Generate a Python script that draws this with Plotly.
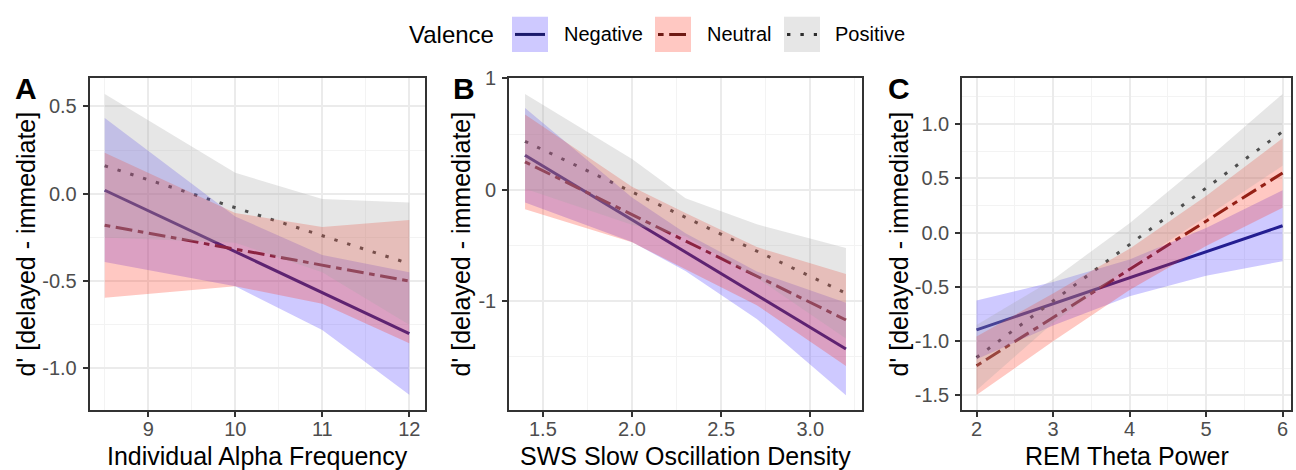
import plotly.graph_objects as go

W, H = 1296, 470
FONT = "Liberation Sans, Arial, Helvetica, sans-serif"

# ---------------- data ----------------
VALENCE = ["Negative", "Neutral", "Positive"]

# Panel A: Individual Alpha Frequency
A_X = [8.5, 10, 11, 12]
A_NEG_FIT = [0.02, -0.331, -0.566, -0.80]
A_NEG_LO = [-0.39, -0.53, -0.78, -1.15]
A_NEG_HI = [0.434, -0.13, -0.35, -0.45]
A_NEU_FIT = [-0.18, -0.317, -0.409, -0.50]
A_NEU_LO = [-0.595, -0.53, -0.63, -0.855]
A_NEU_HI = [0.235, -0.11, -0.19, -0.15]
A_POS_FIT = [0.16, -0.08, -0.24, -0.40]
A_POS_LO = [-0.25, -0.28, -0.45, -0.75]
A_POS_HI = [0.57, 0.12, -0.03, -0.05]

# Panel B: SWS Slow Oscillation Density
B_X = [1.4, 2.0, 2.3, 2.7, 3.2]
B_NEG_FIT = [0.31, -0.27, -0.56, -0.947, -1.43]
B_NEG_LO = [-0.115, -0.47, -0.73, -1.16, -1.845]
B_NEG_HI = [0.735, -0.07, -0.39, -0.735, -1.015]
B_NEU_FIT = [0.25, -0.223, -0.46, -0.776, -1.17]
B_NEU_LO = [-0.175, -0.472, -0.71, -1.037, -1.583]
B_NEU_HI = [0.675, 0.026, -0.21, -0.515, -0.757]
B_POS_FIT = [0.435, -0.02, -0.247, -0.55, -0.93]
B_POS_LO = [0.01, -0.315, -0.418, -0.79, -1.337]
B_POS_HI = [0.86, 0.275, -0.076, -0.31, -0.523]

# Panel C: REM Theta Power
C_X = [2, 3, 4, 5, 6]
C_NEG_FIT = [-0.896, -0.656, -0.417, -0.177, 0.063]
C_NEG_LO = [-1.166, -0.856, -0.587, -0.397, -0.264]
C_NEG_HI = [-0.626, -0.456, -0.247, 0.043, 0.39]
C_NEU_FIT = [-1.226, -0.782, -0.338, 0.106, 0.549]
C_NEU_LO = [-1.496, -1.002, -0.528, -0.124, 0.229]
C_NEU_HI = [-0.956, -0.562, -0.148, 0.336, 0.869]
C_POS_FIT = [-1.151, -0.632, -0.113, 0.406, 0.93]
C_POS_LO = [-1.451, -0.832, -0.313, 0.146, 0.615]
C_POS_HI = [-0.851, -0.432, 0.087, 0.666, 1.277]

# axis ticks / labels
A_XTICKS = [9, 10, 11, 12]
A_XTICKTEXT = ["9", "10", "11", "12"]
A_YTICKS = [-1.0, -0.5, 0.0, 0.5]
A_YTICKTEXT = ["-1.0", "-0.5", "0.0", "0.5"]
B_XTICKS = [1.5, 2.0, 2.5, 3.0]
B_XTICKTEXT = ["1.5", "2.0", "2.5", "3.0"]
B_YTICKS = [-1, 0, 1]
B_YTICKTEXT = ["-1", "0", "1"]
C_XTICKS = [2, 3, 4, 5, 6]
C_XTICKTEXT = ["2", "3", "4", "5", "6"]
C_YTICKS = [-1.5, -1.0, -0.5, 0.0, 0.5, 1.0]
C_YTICKTEXT = ["-1.5", "-1.0", "-0.5", "0.0", "0.5", "1.0"]

A_XMINOR = [8.5, 9.5, 10.5, 11.5]
A_YMINOR = [-0.75, -0.25, 0.25]
B_XMINOR = [1.75, 2.25, 2.75, 3.25]
B_YMINOR = [-1.5, -0.5, 0.5]
C_XMINOR = [2.5, 3.5, 4.5, 5.5]
C_YMINOR = [-1.25, -0.75, -0.25, 0.25, 0.75, 1.25]

X_TITLES = ["Individual Alpha Frequency", "SWS Slow Oscillation Density", "REM Theta Power"]
Y_TITLE = "d' [delayed - immediate]"
PANEL_LABELS = ["A", "B", "C"]
LEGEND_TITLE = "Valence"

# ---------------- styles ----------------
LINE_COLOR = {"Negative": "#1b1a6c", "Neutral": "#6e1a14", "Positive": "#2e2e2e"}
FILL_COLOR = {"Negative": "rgba(60,40,255,0.25)",
              "Neutral": "rgba(255,50,30,0.27)",
              "Positive": "rgba(165,165,165,0.28)"}
DASH = {"Negative": "solid", "Neutral": "5.6px,5.6px,16.8px,5.6px", "Positive": "3.4px,10px"}
LW = 3.0


def px(x):
    return x / W


def py(y):
    return 1 - y / H


panels = [
    dict(x=A_X,
         data={"Negative": (A_NEG_FIT, A_NEG_LO, A_NEG_HI),
               "Neutral": (A_NEU_FIT, A_NEU_LO, A_NEU_HI),
               "Positive": (A_POS_FIT, A_POS_LO, A_POS_HI)},
         dom=(89.5, 424.5), xr=[8.325, 12.175], yr=[-1.24, 0.66],
         xt=(A_XTICKS, A_XTICKTEXT, A_XMINOR), yt=(A_YTICKS, A_YTICKTEXT, A_YMINOR),
         ytitle_x=26, label_x=13),
    dict(x=B_X,
         data={"Negative": (B_NEG_FIT, B_NEG_LO, B_NEG_HI),
               "Neutral": (B_NEU_FIT, B_NEU_LO, B_NEU_HI),
               "Positive": (B_POS_FIT, B_POS_LO, B_POS_HI)},
         dom=(509, 862), xr=[1.31, 3.29], yr=[-1.982, 1.0],
         xt=(B_XTICKS, B_XTICKTEXT, B_XMINOR), yt=(B_YTICKS, B_YTICKTEXT, B_YMINOR),
         ytitle_x=461, label_x=451),
    dict(x=C_X,
         data={"Negative": (C_NEG_FIT, C_NEG_LO, C_NEG_HI),
               "Neutral": (C_NEU_FIT, C_NEU_LO, C_NEU_HI),
               "Positive": (C_POS_FIT, C_POS_LO, C_POS_HI)},
         dom=(962, 1291), xr=[1.81, 6.11], yr=[-1.638, 1.42],
         xt=(C_XTICKS, C_XTICKTEXT, C_XMINOR), yt=(C_YTICKS, C_YTICKTEXT, C_YMINOR),
         ytitle_x=899, label_x=886),
]

PLOT_TOP, PLOT_BOT = 69, 409

fig = go.Figure()
layout = dict(width=W, height=H, margin=dict(l=0, r=0, t=0, b=0),
              paper_bgcolor="white", plot_bgcolor="white", showlegend=False,
              font=dict(family=FONT, color="black"))
annotations = []
shapes = []

for i, p in enumerate(panels):
    n = "" if i == 0 else str(i + 1)
    xa, ya = "x" + n, "y" + n
    ya_over = "y" + str(4 + i)          # overlay y axis: ribbons drawn above the lines
    # fitted lines on the base subplot
    for v in VALENCE:
        fit, lo, hi = p["data"][v]
        fig.add_trace(go.Scatter(x=p["x"], y=fit, mode="lines", xaxis=xa, yaxis=ya,
                                 line=dict(color=LINE_COLOR[v], width=LW, dash=DASH[v]),
                                 name=v, hoverinfo="skip"))
    # confidence ribbons on the overlay subplot (on top of the lines, as in the reference)
    for v in VALENCE:
        fit, lo, hi = p["data"][v]
        fig.add_trace(go.Scatter(x=list(p["x"]) + list(p["x"])[::-1],
                                 y=list(hi) + list(lo)[::-1],
                                 mode="lines", fill="toself", fillcolor=FILL_COLOR[v],
                                 line=dict(width=0), xaxis=xa, yaxis=ya_over,
                                 name=v + " CI", hoverinfo="skip"))
    common = dict(showline=True, mirror=True, linecolor="#333333", linewidth=1.6,
                  ticks="outside", ticklen=5, tickwidth=1.5, tickcolor="#333333",
                  tickfont=dict(size=20, color="#4d4d4d", family=FONT),
                  showgrid=True, gridcolor="#ebebeb", gridwidth=1.8, zeroline=False,
                  tickmode="array", fixedrange=True, layer="below traces")
    ydom = [py(PLOT_BOT), py(PLOT_TOP)]
    layout["xaxis" + n] = dict(common, domain=[px(p["dom"][0]), px(p["dom"][1])],
                               range=p["xr"], anchor=ya,
                               tickvals=p["xt"][0], ticktext=p["xt"][1],
                               ticklabelstandoff=-5,
                               minor=dict(tickmode="array", tickvals=p["xt"][2], showgrid=True,
                                          gridcolor="#f3f3f3", gridwidth=1, ticks=""))
    layout["yaxis" + n] = dict(common, domain=ydom,
                               range=p["yr"], anchor=xa,
                               tickvals=p["yt"][0], ticktext=p["yt"][1],
                               ticklabelstandoff=2,
                               minor=dict(tickmode="array", tickvals=p["yt"][2], showgrid=True,
                                          gridcolor="#f3f3f3", gridwidth=1, ticks=""))
    layout["yaxis" + str(4 + i)] = dict(domain=ydom, range=p["yr"], anchor=xa, overlaying=ya,
                                        visible=False, showgrid=False, zeroline=False,
                                        fixedrange=True)
    cx = (p["dom"][0] + p["dom"][1]) / 2
    annotations.append(dict(text=X_TITLES[i], x=px(cx), y=py(456), xref="paper", yref="paper",
                            xanchor="center", yanchor="middle", showarrow=False,
                            font=dict(size=25, color="black", family=FONT)))
    annotations.append(dict(text=Y_TITLE, x=px(p["ytitle_x"]), y=py((PLOT_TOP + PLOT_BOT) / 2),
                            xref="paper", yref="paper", textangle=-90,
                            xanchor="center", yanchor="middle", showarrow=False,
                            font=dict(size=25, color="black", family=FONT)))
    annotations.append(dict(text="<b>" + PANEL_LABELS[i] + "</b>", x=px(p["label_x"]), y=py(79),
                            xref="paper", yref="paper", xanchor="left", yanchor="middle",
                            showarrow=False, font=dict(size=30, color="black", family=FONT)))

# ---------------- legend (drawn manually to mimic ggplot keys) ----------------
annotations.append(dict(text=LEGEND_TITLE, x=px(407), y=py(24), xref="paper", yref="paper",
                        xanchor="left", yanchor="middle", showarrow=False,
                        font=dict(size=24, color="black", family=FONT)))
key_left = [512, 655, 784]
text_left = [562, 705, 833]
for k, v in enumerate(VALENCE):
    x0 = key_left[k]
    shapes.append(dict(type="rect", xref="paper", yref="paper",
                       x0=px(x0), x1=px(x0 + 36), y0=py(42), y1=py(6),
                       fillcolor=FILL_COLOR[v], line=dict(width=0), layer="above"))
    shapes.append(dict(type="line", xref="paper", yref="paper",
                       x0=px(x0 + 3), x1=px(x0 + 33), y0=py(24), y1=py(24),
                       line=dict(color=LINE_COLOR[v], width=LW, dash=DASH[v]), layer="above"))
    annotations.append(dict(text=v, x=px(text_left[k]), y=py(24), xref="paper", yref="paper",
                            xanchor="left", yanchor="middle", showarrow=False,
                            font=dict(size=20, color="black", family=FONT)))

layout["annotations"] = annotations
layout["shapes"] = shapes
fig.update_layout(**layout)
fig.write_html("out.html")
